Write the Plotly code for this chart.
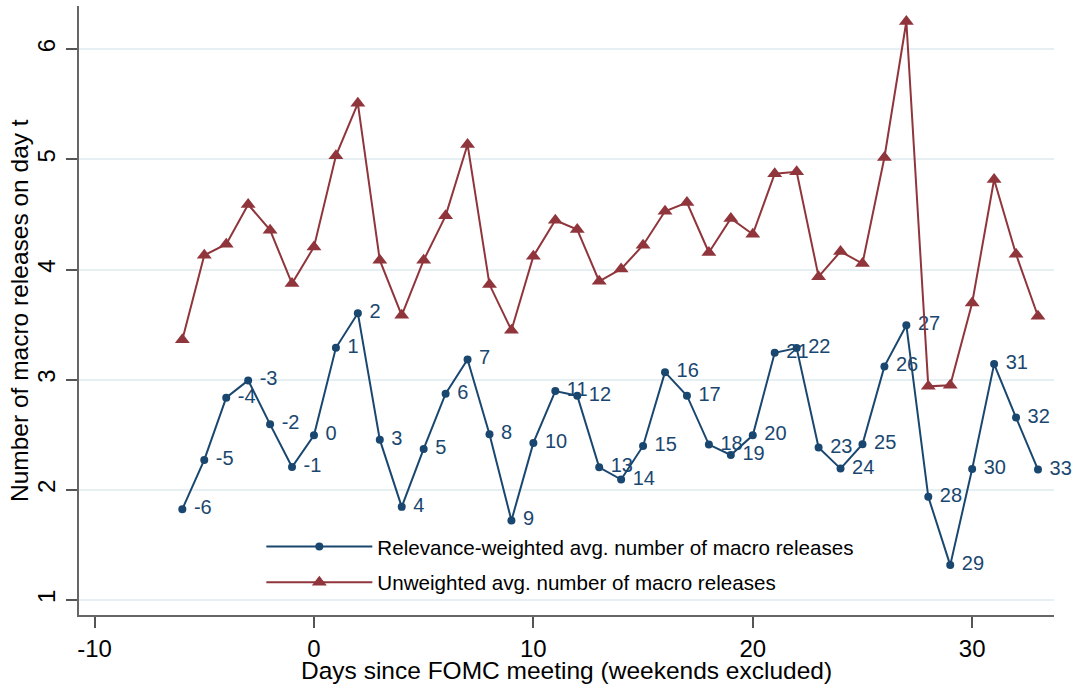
import plotly.graph_objects as go

days = list(range(-6, 34))

weighted = [1.825, 2.272, 2.837, 2.994, 2.595, 2.208, 2.495, 3.290, 3.604, 2.456,
            1.846, 2.372, 2.873, 3.184, 2.505, 1.722, 2.426, 2.897, 2.855, 2.205,
            2.094, 2.399, 3.069, 2.855, 2.411, 2.317, 2.495, 3.245, 3.287, 2.384,
            2.193, 2.414, 3.121, 3.495, 1.937, 1.317, 2.190, 3.142, 2.656, 2.184]

unweighted = [3.363, 4.130, 4.230, 4.591, 4.358, 3.873, 4.206, 5.033, 5.509, 4.085,
              3.585, 4.085, 4.488, 5.136, 3.864, 3.449, 4.121, 4.448, 4.364, 3.894,
              4.006, 4.221, 4.530, 4.609, 4.155, 4.464, 4.321, 4.870, 4.888, 3.936,
              4.164, 4.055, 5.018, 6.252, 2.940, 2.949, 3.697, 4.818, 4.139, 3.576]

point_labels = [str(d) for d in days]

x_ticks = [-10, 0, 10, 20, 30]
y_ticks = [1, 2, 3, 4, 5, 6]

x_title = "Days since FOMC meeting (weekends excluded)"
y_title = "Number of macro releases on day t"

NAVY = "#1a476f"
MAROON = "#90353b"
FONT = "Liberation Sans, Arial, sans-serif"

fig = go.Figure()
fig.add_trace(go.Scatter(
    x=days, y=weighted, mode="lines+markers+text",
    name="Relevance-weighted avg. number of macro releases",
    line=dict(color=NAVY, width=2),
    marker=dict(color=NAVY, size=8, symbol="circle"),
    text=point_labels, texttemplate=" %{text}", textposition="middle right",
    textfont=dict(color=NAVY, size=20, family=FONT),
    cliponaxis=False,
    legendgroup="a",
))
fig.add_trace(go.Scatter(
    x=days, y=unweighted, mode="lines+markers",
    name="Unweighted avg. number of macro releases",
    line=dict(color=MAROON, width=2),
    marker=dict(color=MAROON, size=13, symbol="triangle-up"),
    cliponaxis=False,
    legendgroup="b",
))

fig.update_layout(
    width=1075, height=690,
    margin=dict(l=79, r=21, t=6, b=75, autoexpand=False),
    paper_bgcolor="white", plot_bgcolor="white",
    font=dict(family=FONT, color="#000000"),
    showlegend=True,
    legend=dict(
        x=0.187, y=0.145, xanchor="left", yanchor="top",
        bgcolor="rgba(0,0,0,0)", borderwidth=0,
        font=dict(size=20.6, family=FONT, color="#000000"),
        itemwidth=106, traceorder="grouped", tracegroupgap=6,
    ),
    xaxis=dict(
        range=[-10.71, 33.73], tickvals=x_ticks, ticktext=[str(v) for v in x_ticks],
        showgrid=False, zeroline=False, automargin=False,
        showline=True, linecolor="#666666", linewidth=1.5,
        ticks="outside", ticklen=11, tickwidth=1.5, tickcolor="#555555",
        tickfont=dict(size=24, family=FONT, color="#000000"),
    ),
    yaxis=dict(
        range=[0.864, 6.393], tickvals=y_ticks, ticktext=[str(v) for v in y_ticks],
        showgrid=True, gridcolor="#e6eff1", gridwidth=1.5, zeroline=False,
        automargin=False,
        showline=True, linecolor="#666666", linewidth=1.5,
        ticks="outside", ticklen=11, tickwidth=1.5, tickcolor="#555555",
        tickangle=-90, ticklabelstandoff=2,
        tickfont=dict(size=24, family=FONT, color="#000000"),
    ),
    annotations=[
        dict(text=x_title, xref="paper", yref="paper", x=0.5, y=-0.0911,
             xanchor="center", yanchor="middle", showarrow=False,
             font=dict(size=24.5, family=FONT, color="#000000")),
        dict(text=y_title, xref="paper", yref="paper", x=-0.061, y=0.5,
             xanchor="center", yanchor="middle", textangle=-90, showarrow=False,
             font=dict(size=24.5, family=FONT, color="#000000")),
    ],
)

fig.write_html(
    "out.html",
    config={"displayModeBar": False},
    post_script="document.body.style.margin='0';document.body.style.padding='0';",
)
